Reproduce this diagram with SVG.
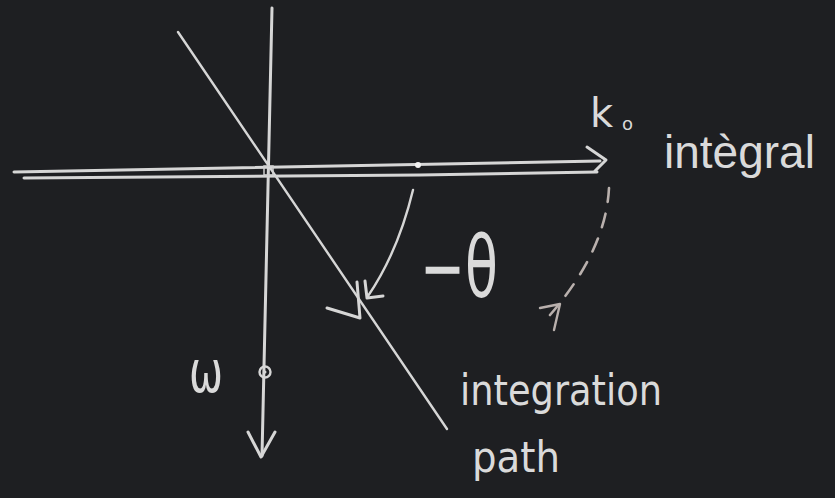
<svg xmlns="http://www.w3.org/2000/svg" width="835" height="498" viewBox="0 0 835 498">
<style>
.ch{fill:none;stroke:#d6d6d6;stroke-width:3;stroke-linecap:round;stroke-linejoin:round}
.thin{stroke-width:2.4}
.dash{fill:none;stroke:#b9b0ad;stroke-width:2.6;stroke-linecap:round;stroke-dasharray:14 12}
.t{fill:#dadada;font-family:"DejaVu Sans","Liberation Sans",sans-serif}
.ls{font-family:"Liberation Sans",Arial,sans-serif}
</style>
<rect width="835" height="498" fill="#1e1f22"/>
<g id="connectors">
  <path class="ch" d="M14 172 L600 161"/>
  <path class="ch" d="M24 178 L420 175 L597 172"/>
  <path class="ch" d="M587 147 L606 160 L595 171"/>
  <path class="ch" d="M272 8 L262 456"/>
  <path class="ch" d="M248 432 L261 457 L275 432"/>
  <path class="ch thin" d="M178 32 L447 429"/>
  <path class="ch" d="M327 308 L360 318 L357 282"/>
  <path class="ch thin" d="M413 190 Q398 252 368 296"/>
  <path class="ch" d="M365 281 L367 298 L383 296"/>
  <path class="dash" d="M609 188 Q606 250 550 315"/>
  <path class="ch thin" style="stroke:#b9b0ad" d="M540 308 L560 304 L554 330"/>
</g>
<g id="origin">
  <rect x="264" y="166" width="9" height="9" fill="none" stroke="#cfcfcf" stroke-width="1.5"/>
</g>
<g id="point-real">
  <circle cx="418" cy="165" r="3" fill="#f2f2f2"/>
</g>
<g id="point-omega">
  <circle cx="265" cy="372" r="5.5" fill="none" stroke="#d6d6d6" stroke-width="2.4"/>
  <circle cx="265" cy="372" r="1.5" fill="#d6d6d6"/>
  <text class="t" x="189" y="392" font-size="58" textLength="34" lengthAdjust="spacingAndGlyphs">ω</text>
</g>
<g id="label-k0">
  <text class="t" x="590" y="127" font-size="40">k</text>
  <text class="t" x="622" y="130" font-size="18">o</text>
</g>
<g id="label-integral">
  <text class="t ls" x="664" y="168" font-size="46">intègral</text>
</g>
<g id="label-theta">
  <text class="t" x="420" y="297" font-size="86" textLength="78" lengthAdjust="spacingAndGlyphs">−θ</text>
</g>
<g id="label-path">
  <text class="t" x="460" y="405" font-size="42" textLength="202" lengthAdjust="spacingAndGlyphs">integration</text>
  <text class="t" x="472" y="472" font-size="42" textLength="88" lengthAdjust="spacingAndGlyphs">path</text>
</g>
</svg>
